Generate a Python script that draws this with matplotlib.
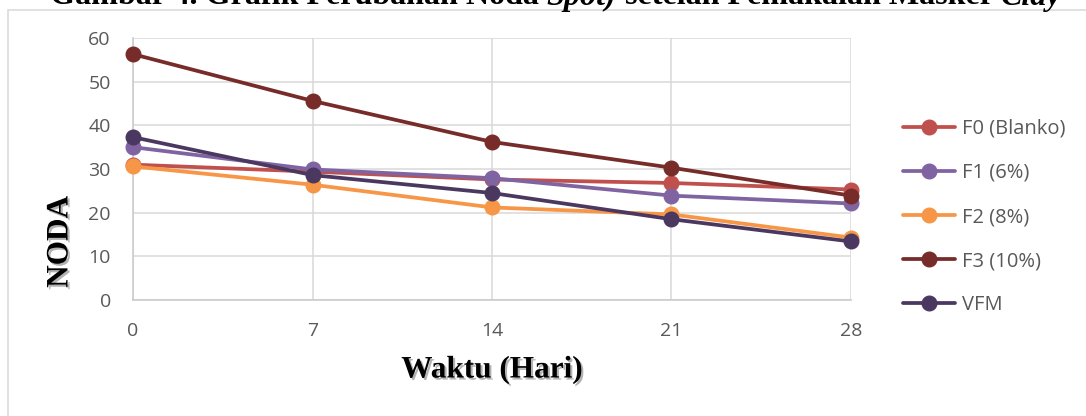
import matplotlib
matplotlib.use('Agg')
import matplotlib.pyplot as plt
import matplotlib.patheffects as pe
from matplotlib.patches import Rectangle

# data
days = [0, 7, 14, 21, 28]
f0_blanko = [31.0, 29.4, 27.6, 26.8, 25.3]
f1_6 = [35.0, 29.9, 27.9, 23.9, 22.1]
f2_8 = [30.6, 26.4, 21.2, 19.6, 14.3]
f3_10 = [56.3, 45.6, 36.2, 30.3, 23.9]
vfm = [37.3, 28.6, 24.5, 18.5, 13.4]

series_labels = ['F0 (Blanko)', 'F1 (6%)', 'F2 (8%)', 'F3 (10%)', 'VFM']
series_colors = ['#C0504D', '#8064A2', '#F79646', '#772C2A', '#4B3860']
yticks = [0, 10, 20, 30, 40, 50, 60]

title_parts = [('Gambar 4. Grafik Perubahan Noda ', 'normal'),
               ('Spot)', 'italic'),
               (' setelah Pemakaian Masker ', 'normal'),
               ('Clay', 'italic')]

W, H = 1086, 416
TICK_FONT = 'Open Sans'
SERIF = 'Liberation Serif'
TICK_COLOR = '#595959'
GRID_COLOR = '#d9d9d9'


def main():
    fig = plt.figure(figsize=(W / 100, H / 100), dpi=100)

    # outer chart frame (only top and left edge visible)
    fig.patches.append(Rectangle((7.5 / W, -0.1), 1.2, 1 - 10 / H + 0.1,
                                 transform=fig.transFigure, fill=False,
                                 edgecolor=GRID_COLOR, lw=1.1))

    ax = fig.add_axes([133 / W, 1 - 300 / H, 718 / W, 262 / H])
    all_series = [f0_blanko, f1_6, f2_8, f3_10, vfm]
    for vals, lab, col in zip(all_series, series_labels, series_colors):
        ax.plot(days, vals, color=col, lw=2.7, marker='o', ms=10.5,
                label=lab, solid_capstyle='round', clip_on=False, zorder=3)

    ax.set_xlim(0, 28)
    ax.set_ylim(0, 60)
    ax.set_xticks(days)
    ax.set_yticks(yticks)
    ax.grid(True, color=GRID_COLOR, lw=1.1)
    ax.set_axisbelow(True)
    for s in ['top', 'right']:
        ax.spines[s].set_visible(False)
    for s in ['left', 'bottom']:
        ax.spines[s].set_color('#cccccc')
        ax.spines[s].set_linewidth(1.2)
    ax.tick_params(axis='both', length=0, labelsize=14, labelcolor=TICK_COLOR)
    ax.tick_params(axis='y', pad=16)
    ax.tick_params(axis='x', pad=16)
    for t in ax.get_xticklabels() + ax.get_yticklabels():
        t.set_fontfamily(TICK_FONT)

    shadow = [pe.withSimplePatchShadow(offset=(1.5, -1.5), shadow_rgbFace='#808080', alpha=0.6)]
    fig.text(60 / W, 1 - 242 / H, 'NODA', rotation=90, ha='center', va='center',
             family=SERIF, weight='bold', fontsize=22.5, path_effects=shadow)
    fig.text(492 / W, 1 - 370 / H, 'Waktu (Hari)', ha='center', va='center',
             family=SERIF, weight='bold', fontsize=22.5, path_effects=shadow)

    leg = fig.legend(loc='center left', bbox_to_anchor=(903 / W, 1 - 217 / H),
                     frameon=False, borderpad=0, borderaxespad=0,
                     handlelength=2.6, handletextpad=0.35, labelspacing=1.2,
                     prop={'family': TICK_FONT, 'size': 14.5})
    for t in leg.get_texts():
        t.set_color(TICK_COLOR)

    # title, cut off at the top of the image; italic parts placed piecewise
    fig.canvas.draw()
    renderer = fig.canvas.get_renderer()
    x = 50 / W
    for txt, style in title_parts:
        t = fig.text(x, 1 - 4.5 / H, txt, ha='left', va='baseline',
                     family=SERIF, weight='bold', style=style, fontsize=23.1)
        bb = t.get_window_extent(renderer)
        x = bb.x1 / W

    fig.savefig('out.png', dpi=100)


if __name__ == '__main__':
    main()
